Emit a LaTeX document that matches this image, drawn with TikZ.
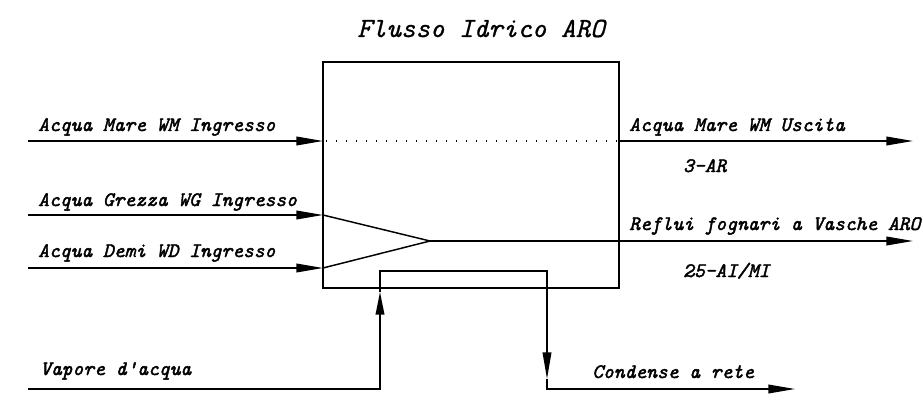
\documentclass[tikz,border=0pt]{standalone}
\usepackage{fontspec}
\usetikzlibrary{arrows.meta}
\newfontfamily\cadfont{lmmono10-italic.otf}[FakeBold=2]
\newfontfamily\titlefont{lmmono10-italic.otf}[FakeBold=0.8]
\tikzset{
  flow/.style={line width=1.2pt,-{Triangle[length=20pt,width=6.5pt]}},
  pipe/.style={line width=1.1pt},
  lab/.style={anchor=base west,inner sep=0pt,font=\cadfont\fontsize{15.4}{18}\selectfont},
}
\begin{document}
\begin{tikzpicture}[x=0.75pt,y=-0.75pt]
\useasboundingbox (0,0) rectangle (923,406);
% titolo
\node[anchor=base west,inner sep=0pt,font=\titlefont\fontsize{20.8}{24}\selectfont] (title) at (357,37) {Flusso Idrico ARO};
% unita ARO
\node[draw,line width=1.4pt,minimum width=222pt,minimum height=169.5pt,inner sep=0pt] (aro) at (471,175) {};
\draw[line width=0.8pt,dash pattern=on 0.8pt off 6.7pt] (326,141) -- (617,141);
% ingressi
\coordinate (wmin) at (28,141);
\coordinate (wmbox) at (323,141);
\coordinate (wgin) at (28,215);
\coordinate (wdin) at (28,268);
\coordinate (mixtop) at (323,215);
\coordinate (mixbot) at (323,268);
\coordinate (mixtip) at (430,241);
\draw[flow] (wmin) -- (wmbox);
\draw[flow] (wgin) -- (mixtop);
\draw[flow] (wdin) -- (mixbot);
\draw[pipe] (mixtop) -- (mixtip) -- (mixbot);
% uscite
\coordinate (wmbox2) at (619,141);
\coordinate (wmout) at (913,141);
\coordinate (reout) at (913,241);
\draw[flow] (wmbox2) -- (wmout);
\draw[flow] (mixtip) -- (reout);
% vapore / condense
\coordinate (vin) at (28,389);
\coordinate (vup) at (380,389);
\coordinate (vtip) at (380,292);
\coordinate (vtop) at (380,271);
\coordinate (ctop) at (547,271);
\coordinate (ctip) at (547,379);
\coordinate (cdown) at (547,389);
\coordinate (cout) at (795,389);
\draw[flow,line width=1.1pt,-{Triangle[length=17pt,width=6.5pt]}] (vin) -- (vup) -- (vtip);
\draw[flow,line width=1.1pt] (vtip) -- (vtop) -- (ctop) -- (ctip);
\draw[flow,line width=1.1pt] (ctip) -- (cdown) -- (cout);
% etichette
\node[lab] (wmlab) at (38,131) {Acqua Mare WM Ingresso};
\node[lab] (wglab) at (38,206) {Acqua Grezza WG Ingresso};
\node[lab] (wdlab) at (38,257) {Acqua Demi WD Ingresso};
\node[lab] (wmoutlab) at (629,131) {Acqua Mare WM Uscita};
\node[lab] (arlab) at (683,172) {3-AR};
\node[lab] (relab) at (629,230) {Reflui fognari a Vasche ARO};
\node[lab] (ailab) at (683,277) {25-AI/MI};
\node[lab] (vlab) at (40,375) {Vapore d'acqua};
\node[lab] (clab) at (592,378) {Condense a rete};
\end{tikzpicture}
\end{document}
